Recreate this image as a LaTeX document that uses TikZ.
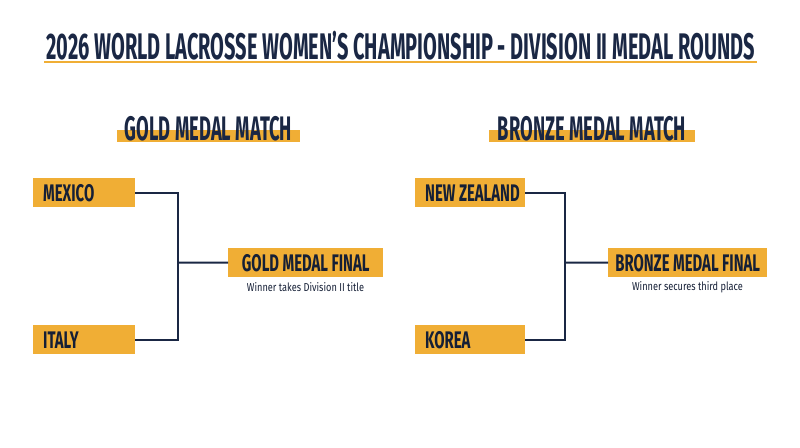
\documentclass[tikz,border=0pt]{standalone}
\usepackage{fontspec}
\setmainfont{Fira Sans}
\newfontfamily\headfont{Fira Sans}[FakeStretch=0.54,UprightFont=* Bold]
\newfontfamily\boxfont{Fira Sans}[FakeStretch=0.62,UprightFont=* Bold]
\newfontfamily\notefont{Fira Sans}[FakeStretch=0.8]
\definecolor{navy}{HTML}{1A2744}
\definecolor{gold}{HTML}{F0AE35}
\tikzset{
  team/.style={fill=gold, anchor=north west, minimum height=29pt, inner xsep=10pt, inner ysep=0pt,
    text width=82pt, align=flush left, font=\boxfont\fontsize{24}{24}\selectfont, text=navy!80!black},
  final/.style={fill=gold, anchor=north west, minimum height=29pt, inner sep=0pt,
    font=\boxfont\fontsize{24}{24}\selectfont, text=navy!80!black},
  head/.style={font=\headfont\fontsize{34}{34}\selectfont, text=navy, inner sep=0pt},
  note/.style={font=\notefont\fontsize{11.5}{11.5}\selectfont, text=navy!80!black, inner sep=0pt},
  wire/.style={draw=navy, line width=2pt},
}
\begin{document}
\begin{tikzpicture}[x=1pt,y=-1pt]
    \useasboundingbox (0,0) rectangle (800,447);

    % title
    \node[head, font=\headfont\fontsize{37}{37}\selectfont] (title) at (400.5,45.5) {2026 WORLD LACROSSE WOMEN’S CHAMPIONSHIP - DIVISION II MEDAL ROUNDS};
    \fill[gold] (44,60.5) rectangle (757,63);

    % section headers
    \fill[gold] (117,130) rectangle (300,142);
    \node[head] (goldhead) at (208.5,128.5) {GOLD MEDAL MATCH};
    \fill[gold] (489,130) rectangle (695,142);
    \node[head] (bronzehead) at (592,128.5) {BRONZE MEDAL MATCH};

    % gold bracket
    \node[team] (mexico) at (33,178) {MEXICO};
    \node[team] (italy) at (33,325) {ITALY};
    \node[final, minimum width=155pt] (goldfinal) at (228,248) {GOLD MEDAL FINAL};
    \node[note] (goldnote) at (305.5,287) {Winner takes Division II title};
    \coordinate (gj) at (178,262.5);
    \draw[wire] (mexico.east) -| (gj) |- (italy.east);
    \draw[wire] (gj) -- (goldfinal.west);

    % bronze bracket
    \node[team, text width=90pt] (newzealand) at (415,178) {\mbox{NEW ZEALAND}};
    \node[team, text width=90pt] (korea) at (415,325) {KOREA};
    \node[final, minimum width=159pt] (bronzefinal) at (608,248) {BRONZE MEDAL FINAL};
    \node[note] (bronzenote) at (687.5,287) {Winner secures third place};
    \coordinate (bj) at (565,262.5);
    \draw[wire] (newzealand.east) -| (bj) |- (korea.east);
    \draw[wire] (bj) -- (bronzefinal.west);
\end{tikzpicture}
\end{document}
